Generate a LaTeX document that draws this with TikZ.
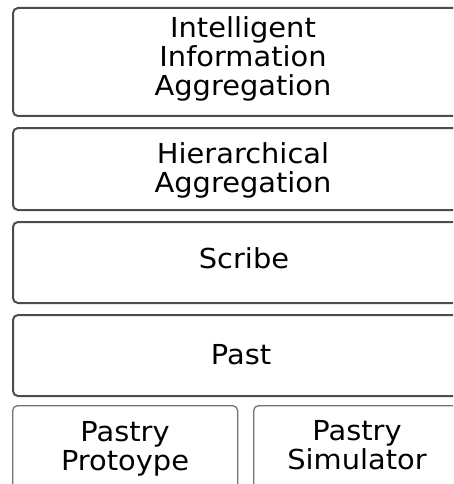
\documentclass[tikz,border=0pt]{standalone}
\usepackage{fontspec}
\setmainfont{DejaVu Sans}[FakeStretch=1.05]
\begin{document}
\begin{tikzpicture}[x=1pt,y=-1pt,
  layer/.style={draw=black!70, line width=2pt, rounded corners=5pt, fill=white,
    inner sep=0pt, anchor=north west},
  base/.style={draw=black!55, line width=1.3pt, rounded corners=5pt, fill=white,
    inner sep=0pt, anchor=north west},
  % labels hang from the top of their first line
  lbl/.style={align=center, inner sep=0pt, anchor=north,
    font=\fontsize{27.5}{29}\selectfont,
    execute at begin node={\rule{0pt}{21pt}}}]
  % canvas
  \fill[white] (0,0) rectangle (453,484);
  \useasboundingbox (0,0) rectangle (453,484);
  \clip (0,0) rectangle (453,484);

  % stacked layers (they run past the right edge)
  \node[layer, minimum width=462pt, minimum height=108pt] (iia) at (12,7) {};
  \node[layer, minimum width=462pt, minimum height=82pt]  (ha)  at (12,127) {};
  \node[layer, minimum width=462pt, minimum height=81pt]  (scr) at (12,221) {};
  \node[layer, minimum width=462pt, minimum height=81pt]  (pst) at (12,314) {};

  % base row: prototype and simulator
  \node[base, minimum width=225pt, minimum height=120pt] (proto) at (12,405) {};
  \node[base, minimum width=221pt, minimum height=120pt] (sim)   at (253,405) {};

  % labels
  \node[lbl] (tiia)   at (243,16.3)  {Intelligent\\Information\\Aggregation};
  \node[lbl] (tha)    at (243,142.3) {Hierarchical\\Aggregation};
  \node[lbl] (tscr)   at (244,247.3) {Scribe};
  \node[lbl] (tpst)   at (241,343.3) {Past};
  \node[lbl] (tproto) at (125,421.7) {Pastry\\Protoype};
  \node[lbl] (tsim)   at (357,420.7) {Pastry\\Simulator};
\end{tikzpicture}
\end{document}
